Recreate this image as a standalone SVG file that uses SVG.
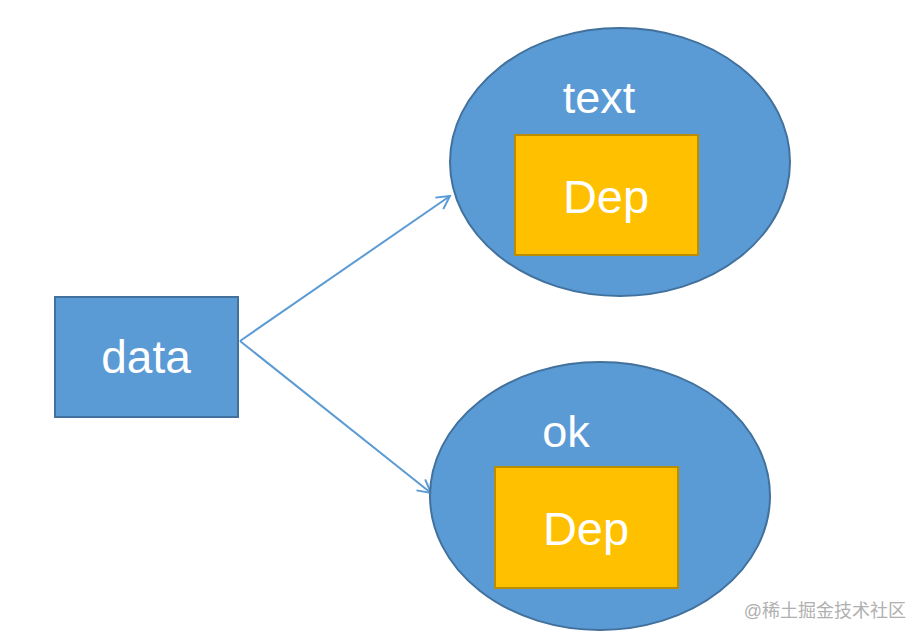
<svg xmlns="http://www.w3.org/2000/svg" width="924" height="642" viewBox="0 0 924 642">
<style>
.blue{fill:#5B9BD5;stroke:#41719C;stroke-width:2}
.dep{fill:#FFC000;stroke:#BC8C00;stroke-width:2}
.lbl{fill:#fff;font-family:"Liberation Sans",Arial,sans-serif;text-anchor:middle}
.conn{stroke:#5B9BD5;stroke-width:2;fill:none}
</style>
<defs>
<marker id="arr" markerWidth="16" markerHeight="16" refX="14" refY="8" orient="auto" markerUnits="userSpaceOnUse">
<path d="M1,1 L14,8 L1,15" fill="none" stroke="#5B9BD5" stroke-width="2"/>
</marker>
</defs>
<rect width="924" height="642" fill="#fff"/>
<g id="connectors">
<line class="conn" x1="240" y1="341" x2="450" y2="196" marker-end="url(#arr)"/>
<line class="conn" x1="240" y1="341" x2="431" y2="493" marker-end="url(#arr)"/>
</g>
<g id="data">
<rect class="blue" x="55" y="297" width="183" height="120"/>
<text class="lbl" x="146" y="373" font-size="46">data</text>
</g>
<g id="text-node">
<ellipse class="blue" cx="620" cy="162" rx="170" ry="134"/>
<text class="lbl" x="599" y="113" font-size="45">text</text>
<g id="dep1">
<rect class="dep" x="515" y="135" width="183" height="120"/>
<text class="lbl" x="606" y="213" font-size="47">Dep</text>
</g>
</g>
<g id="ok-node">
<ellipse class="blue" cx="600" cy="496" rx="170" ry="134"/>
<text class="lbl" x="566" y="447" font-size="45">ok</text>
<g id="dep2">
<rect class="dep" x="495" y="467" width="183" height="121"/>
<text class="lbl" x="586" y="545" font-size="47">Dep</text>
</g>
</g>
<text x="906" y="617" font-size="18" fill="#b0b0b0" text-anchor="end" font-family="'Liberation Sans','Noto Sans CJK SC',sans-serif">@稀土掘金技术社区</text>
</svg>
